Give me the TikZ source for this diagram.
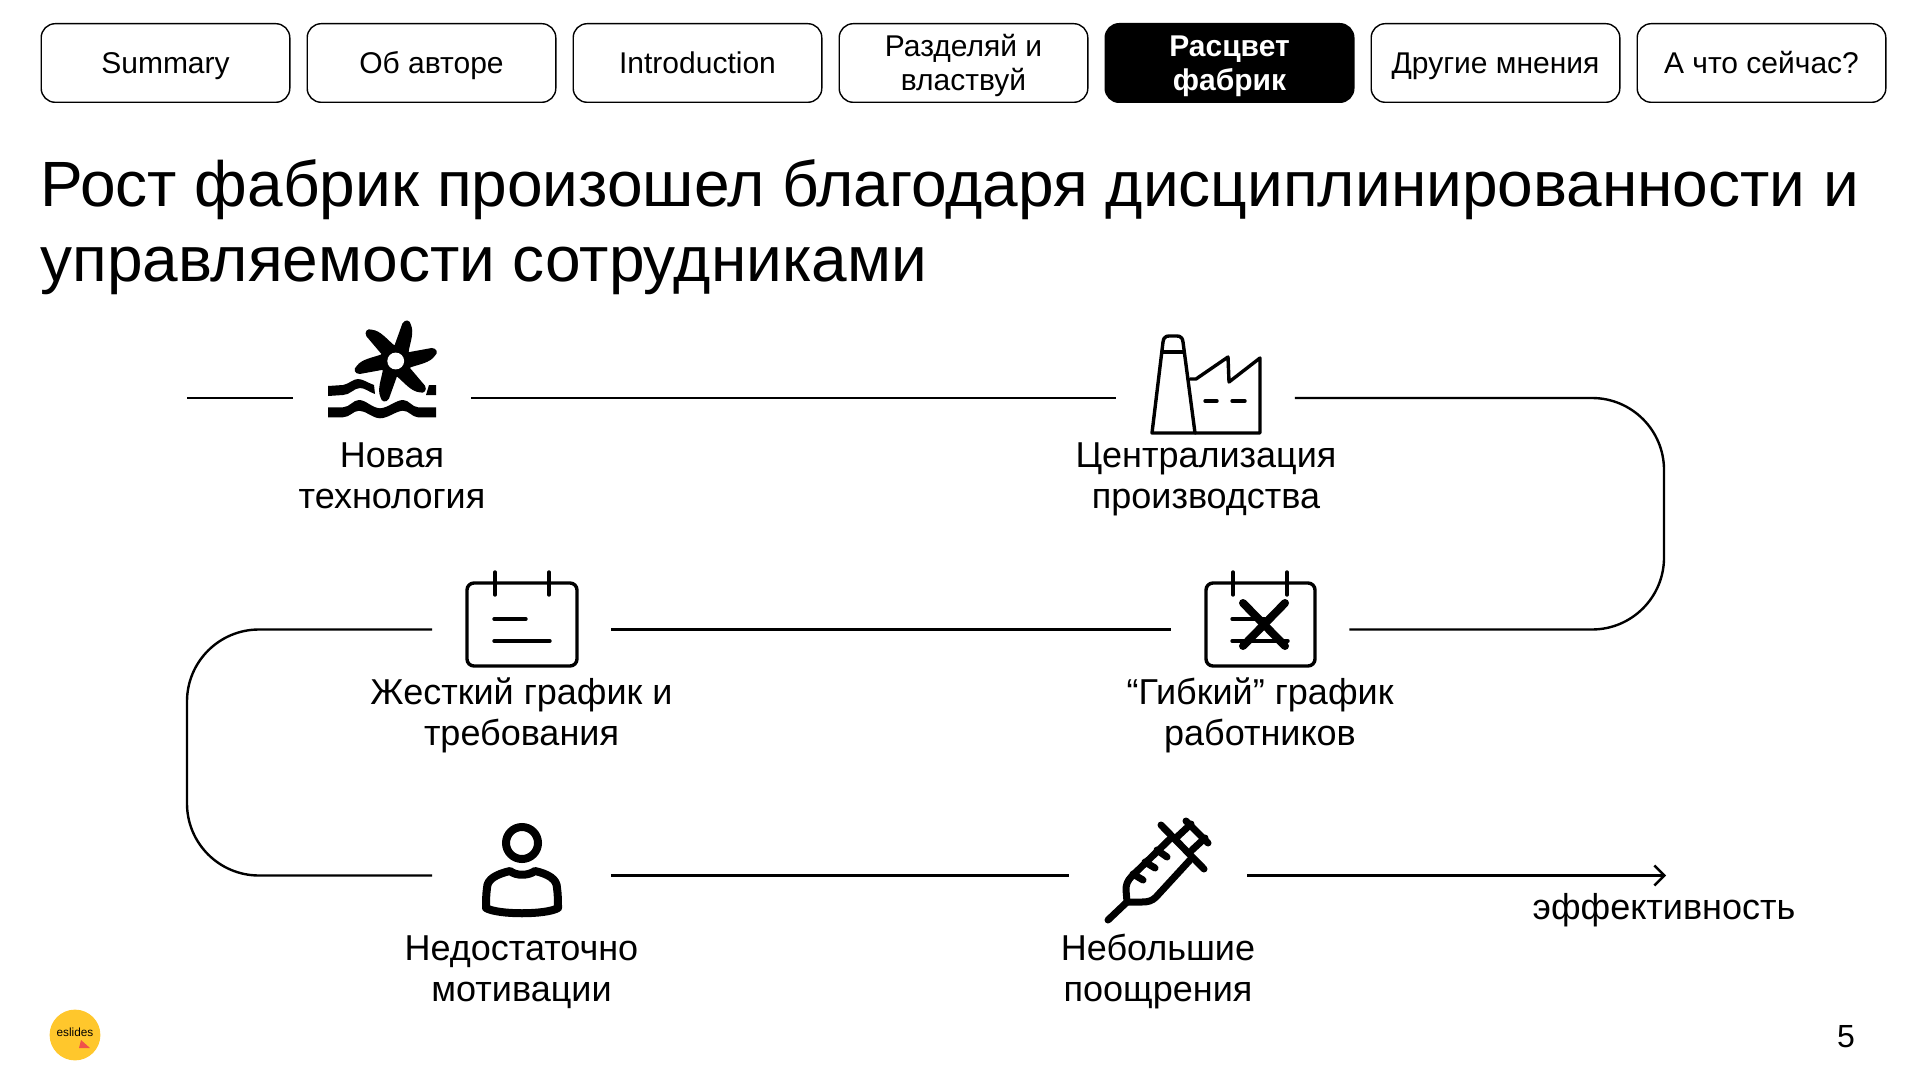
\documentclass[tikz,border=0pt]{standalone}
\usepackage{fontspec}
\setmainfont{Liberation Sans}
\usetikzlibrary{arrows.meta}
\newcommand\tabtop{\vrule width 0pt height 14pt}
\newcommand\tabbot{\vrule width 0pt depth 3pt}

\begin{document}
\begin{tikzpicture}[x=0.5pt,y=-0.5pt,
	tabbox/.style={draw,line width=0.7pt,rounded corners=7pt,minimum width=124.3pt,minimum height=39.3pt,inner sep=0pt,align=center,font=\fontsize{15}{17}\selectfont},
	tabactive/.style={tabbox,fill=black,text=white,font=\fontsize{15}{17}\selectfont\bfseries},
	iconslot/.style={minimum width=89pt,minimum height=40pt,inner sep=0pt},
	steplabel/.style={align=center,inner sep=0pt,font=\fontsize{18}{20.5}\selectfont},
	flowline/.style={line width=1.2pt},
	iconline/.style={line width=1.7pt,line cap=round,line join=round},
	syringeline/.style={line width=3.5pt,line cap=round,line join=round}]
	\useasboundingbox (0,0) rectangle (1920,1080);

	% Tabs
	\node (tabSummary) [tabbox] at (165.5,63) {\tabtop\tabbot Summary};
	\node (tabAuthor) [tabbox] at (431.5,63) {\tabtop\tabbot Об авторе};
	\node (tabIntro) [tabbox] at (697.5,63) {\tabtop\tabbot Introduction};
	\node (tabDivide) [tabbox] at (963.5,63) {\tabtop Разделяй и\\\tabbot властвуй};
	\node (tabRise) [tabactive] at (1229.5,63) {\tabtop Расцвет\\\tabbot фабрик};
	\node (tabOther) [tabbox] at (1495.5,63) {\tabtop\tabbot Другие мнения};
	\node (tabNow) [tabbox] at (1761.5,63) {\tabtop\tabbot А что сейчас?};

	% Title
	\node (title) [anchor=north west,inner sep=0pt,align=left,font=\fontsize{32}{37.4}\selectfont] at (40,159) {Рост фабрик произошел благодаря дисциплинированности и\\управляемости сотрудниками};

	% Slots of the icons
	\node (slotTech) [iconslot] at (382,398) {};
	\node (slotCentral) [iconslot] at (1205.5,398) {};
	\node (slotFlex) [iconslot] at (1260,629.5) {};
	\node (slotHard) [iconslot] at (521.5,629.5) {};
	\node (slotPerson) [iconslot] at (521.5,875.5) {};
	\node (slotSyringe) [iconslot] at (1158,875.5) {};
	\coordinate (lineStart) at (187,398);
	\coordinate (turnTR) at (1664,398);
	\coordinate (turnBR) at (1664,629.5);
	\coordinate (turnTL) at (187,629.5);
	\coordinate (turnBL) at (187,875.5);
	\coordinate (lineEnd) at (1666,875.5);

	%Straight Lines
	\draw [flowline] (lineStart) -- (slotTech.west);
	\draw [flowline] (slotTech.east) -- (slotCentral.west);
	\draw [flowline,rounded corners=36pt] (slotCentral.east) -- (turnTR) -- (turnBR) -- (slotFlex.east);
	\draw [flowline] (slotFlex.west) -- (slotHard.east);
	\draw [flowline,rounded corners=36pt] (slotHard.west) -- (turnTL) -- (turnBL) -- (slotPerson.west);
	\draw [flowline] (slotPerson.east) -- (slotSyringe.west);
	\draw [flowline,-{Straight Barb[length=5pt,width=10pt,line width=1.2pt]}] (slotSyringe.east) -- (lineEnd);

	%Shape: Turbine
	\foreach \ang in {0,60,120,180,240,300} {
		\fill [shift={(395.7,361)},rotate=\ang] (0,-6) -- (14,-9) -- (36,-13) .. controls (41,-13) and (43,-8) .. (39,-5) .. controls (34,2) and (24,3) .. (13,7) -- (0,6) -- cycle;
	}
	\fill (395.7,361) circle [radius=8pt];
	\fill [white] (395.7,361) circle [radius=4.2pt];
	\fill (328,386) -- (343,385) .. controls (349,384) and (353,379) .. (358,379) .. controls (363,379) and (368,383) .. (374,385) -- (375,394) .. controls (369,392) and (365,388) .. (360,388) .. controls (354,388) and (350,395) .. (343,395) -- (328,396) -- cycle;
	\fill (429,385) -- (436,385) -- (436,395) -- (426,395) -- cycle;
	\fill (328,407.3) -- (343,407.3) .. controls (350,407) and (353,400) .. (359,400) .. controls (366,400) and (372,408) .. (380,408.3) .. controls (388,408) and (396,400) .. (403,400) .. controls (409,400) and (412,407) .. (418,407.3) -- (436,407.3) -- (436,417.3) -- (418,417.3) .. controls (412,417) and (409,410.7) .. (403,410.7) .. controls (396,411) and (388,418.3) .. (380,418.3) .. controls (372,418) and (366,410.7) .. (359,410.7) .. controls (353,411) and (350,417) .. (343,417.3) -- (328,417.3) -- cycle;

	%Shape: Factory
	\draw [iconline] (1152,433) -- (1163,342) .. controls (1164,335) and (1168,336) .. (1173,336) .. controls (1178,336) and (1182,335) .. (1183,342) -- (1195,433) -- cycle;
	\draw [iconline] (1162,352) -- (1184,352);
	\draw [iconline] (1190,379) -- (1196,379) -- (1228,357) -- (1229,382) -- (1260,358) -- (1260,433) -- (1195,433);
	\draw [iconline] (1205,401) -- (1217,401);
	\draw [iconline] (1232,401) -- (1245,401);

	%Shape: Hard calendar
	\draw [iconline,rounded corners=3.5pt] (467,583) rectangle (577,666);
	\draw [iconline] (495,572) -- (495,595);
	\draw [iconline] (549,572) -- (549,595);
	\draw [iconline] (494,619) -- (526,619);
	\draw [iconline] (494,641) -- (550,641);

	%Shape: Flexible calendar
	\draw [iconline,rounded corners=3.5pt] (1206,583) rectangle (1315,666);
	\draw [iconline] (1233,572) -- (1233,595);
	\draw [iconline] (1287,572) -- (1287,595);
	\draw [iconline] (1232,619) -- (1265,619);
	\draw [iconline] (1232,641) -- (1288,641);
	\draw [line width=4pt,line cap=round] (1243,603) -- (1285,646);
	\draw [line width=4pt,line cap=round] (1285,603) -- (1243,646);

	%Shape: Person
	\draw [line width=4pt] (522,843) circle [radius=8pt];
	\draw [line width=4pt,line join=round] (510,871) .. controls (516,876) and (528,876) .. (535,871) .. controls (548,874) and (557,879) .. (557,888) .. controls (558,895) and (558,902) .. (558,908) .. controls (546,915) and (498,915) .. (486,908) .. controls (486,902) and (486,895) .. (487,888) .. controls (487,879) and (497,874) .. (510,871) -- cycle;

	%Shape: Syringe
	\draw [syringeline] (1108,920) -- (1127,902);
	\draw [syringeline] (1172,837) -- (1132,876) .. controls (1127,881) and (1126,885) .. (1126,890) -- (1127,902) -- (1142,902) .. controls (1148,902) and (1152,901) .. (1156,897) -- (1190,860);
	\draw [syringeline] (1161,825) -- (1204,869);
	\draw [syringeline] (1186,821) -- (1208,843);
	\draw [syringeline] (1177,837) -- (1191,824);
	\draw [syringeline] (1192,850) -- (1205,838);
	\draw [syringeline] (1157,850) -- (1167,857);
	\draw [syringeline] (1145,862) -- (1155,868);
	\draw [syringeline] (1133,874) -- (1143,880);

	% Text Node
	\node (labelTech) [steplabel] at (392,480) {\strut Новая\\\strut технология};
	\node (labelCentral) [steplabel] at (1206,480) {\strut Централизация\\\strut производства};
	\node (labelHard) [steplabel] at (521.5,717) {\strut Жесткий график и\\\strut требования};
	\node (labelFlex) [steplabel] at (1260,717) {\strut “Гибкий” график\\\strut работников};
	\node (labelPerson) [steplabel] at (521.5,973) {\strut Недостаточно\\\strut мотивации};
	\node (labelSyringe) [steplabel] at (1158,973) {\strut Небольшие\\\strut поощрения};
	\node (labelGoal) [steplabel] at (1664,911) {\strut эффективность};
	\node (pageNum) [inner sep=0pt,font=\fontsize{16}{19}\selectfont] at (1846,1037) {5};

	%Shape: Logo
	\fill [color={rgb, 255:red, 255; green, 199; blue, 44 }] (75,1035) circle [radius=12.7pt];
	\node (logoText) [inner sep=0pt,font=\fontsize{5.9}{6}\selectfont] at (75,1032) {eslides};
	\fill [color={rgb, 255:red, 240; green, 82; blue, 74 }] (81,1040) -- (90,1048) -- (79,1048) -- cycle;
\end{tikzpicture}
\end{document}
